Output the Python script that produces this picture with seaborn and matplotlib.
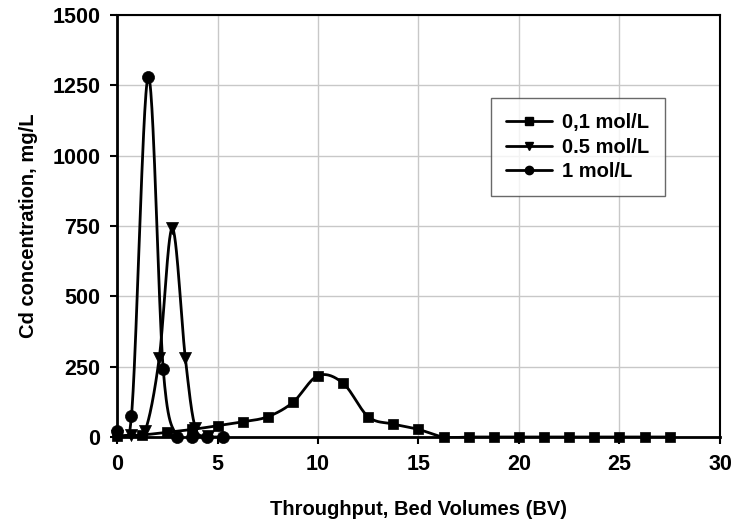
import numpy as np
import pandas as pd
import seaborn as sns
import matplotlib
matplotlib.use("Agg")
import matplotlib.pyplot as plt
from matplotlib.lines import Line2D

# ---- data ----
x_01 = [0, 1.25, 2.5, 3.75, 5.0, 6.25, 7.5, 8.75, 10.0, 11.25, 12.5, 13.75, 15.0,
        16.25, 17.5, 18.75, 20.0, 21.25, 22.5, 23.75, 25.0, 26.25, 27.5]
y_01 = [2, 7, 17, 27, 40, 54, 72, 123, 218, 191, 72, 46, 27,
        0, 0, 0, 0, 0, 0, 0, 0, 0, 0]
x_05 = [0, 0.7, 1.4, 2.1, 2.75, 3.4, 3.9, 4.55]
y_05 = [3, 8, 22, 280, 742, 280, 32, 4]
x_1 = [0, 0.72, 1.55, 2.3, 3.0, 3.75, 4.5, 5.25]
y_1 = [22, 76, 1280, 240, 0, 0, 0, 0]
labels = ["0,1 mol/L", "0.5 mol/L", "1 mol/L"]
markers = ["s", "v", "o"]

def smooth(x, y, n=30):
    x = np.asarray(x, float); y = np.asarray(y, float)
    px = np.concatenate([[2*x[0]-x[1]], x, [2*x[-1]-x[-2]]])
    py = np.concatenate([[2*y[0]-y[1]], y, [2*y[-1]-y[-2]]])
    xs, ys = [], []
    t = np.linspace(0, 1, n)
    for i in range(1, len(px)-2):
        p0x, p1x, p2x, p3x = px[i-1:i+3]
        p0y, p1y, p2y, p3y = py[i-1:i+3]
        c1x = p1x + (p2x - p0x)/6; c1y = p1y + (p2y - p0y)/6
        c2x = p2x - (p3x - p1x)/6; c2y = p2y - (p3y - p1y)/6
        bx = (1-t)**3*p1x + 3*(1-t)**2*t*c1x + 3*(1-t)*t**2*c2x + t**3*p2x
        by = (1-t)**3*p1y + 3*(1-t)**2*t*c1y + 3*(1-t)*t**2*c2y + t**3*p2y
        xs.append(bx); ys.append(by)
    return np.concatenate(xs), np.concatenate(ys)

sns.set_theme(style="white")
plt.rcParams['font.family'] = ['Liberation Sans', 'DejaVu Sans']
plt.rcParams['font.weight'] = 'bold'
for k in ['text.color', 'axes.labelcolor', 'xtick.color', 'ytick.color']:
    plt.rcParams[k] = 'black'

fig = plt.figure(figsize=(7.36, 5.27), dpi=100)
ax = fig.add_axes([117/736, 1-437/527, (720-117)/736, (437-15)/527])

series = [(x_01, y_01), (x_05, y_05), (x_1, y_1)]
handles = []
for (xs, ys), lab, mk in zip(series, labels, markers):
    sx, sy = smooth(xs, ys)
    sns.lineplot(x=sx, y=sy, ax=ax, color="black", lw=2, sort=False, estimator=None, zorder=3)
    df = pd.DataFrame({"x": xs, "y": ys})
    sns.scatterplot(data=df, x="x", y="y", ax=ax, marker=mk, color="black",
                    s=75 if mk != "s" else 60, edgecolor="black", linewidth=0.5,
                    zorder=4, clip_on=False)
    handles.append(Line2D([0], [0], color="black", lw=2, marker=mk, markersize=6, label=lab))

ax.set_xlim(0, 30)
ax.set_ylim(0, 1500)
ax.set_xticks(np.arange(0, 31, 5))
ax.set_yticks(np.arange(0, 1501, 250))
ax.grid(True, color="#c8c8c8", lw=1)
ax.set_axisbelow(True)
for s in ax.spines.values():
    s.set_color("black")
    s.set_linewidth(1.5)
ax.spines['left'].set_linewidth(2)
ax.spines['bottom'].set_linewidth(2)
ax.tick_params(axis='both', direction='out', length=5, width=1.5, color='black',
               labelcolor='black', labelsize=15.5, pad=7, bottom=True, left=True)
for lbl in ax.get_xticklabels() + ax.get_yticklabels():
    lbl.set_fontweight('bold')
ax.set_xlabel("Throughput, Bed Volumes (BV)", fontsize=14.5, fontweight='bold', labelpad=18, color='black')
ax.set_ylabel("Cd concentration, mg/L", fontsize=14.5, fontweight='bold', labelpad=10, color='black')

leg = ax.legend(handles=handles, loc='upper left',
                bbox_to_anchor=((491-117)/603, 1-(98-15)/422),
                frameon=True, fancybox=False, prop={'weight': 'bold', 'size': 14.5},
                handlelength=2.3, handletextpad=0.5, borderpad=0.75, labelspacing=0.28,
                borderaxespad=0)
leg.get_frame().set_edgecolor("#444444")
leg.get_frame().set_linewidth(1.0)
for t in leg.get_texts():
    t.set_color('black')

fig.savefig("out.png", dpi=100)
